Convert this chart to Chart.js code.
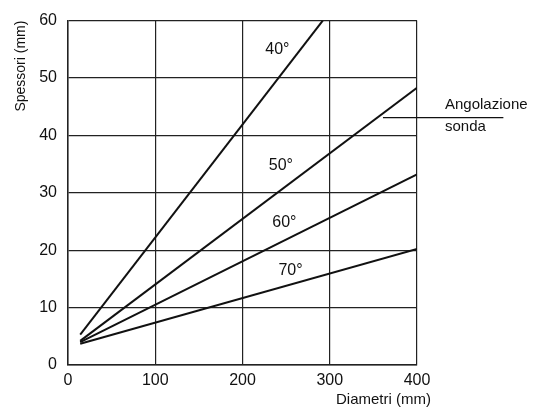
<!DOCTYPE html>
<html>
<head>
<meta charset="utf-8">
<script src="https://cdn.jsdelivr.net/npm/chart.js@4.4.1/dist/chart.umd.min.js"></script>
<style>
  html, body { margin: 0; padding: 0; background: #fff; }
  #wrap { width: 538px; height: 412px; position: relative; }
</style>
</head>
<body>
<div id="wrap"><canvas id="grafico"></canvas></div>
<script>
// valori: spessore in funzione del diametro per angolazione sonda
const angoli = ["40°", "50°", "60°", "70°"];
const diam40 = [14, 292];
const spess40 = [5.3, 60];
const diam50 = [14, 400];
const spess50 = [4.2, 48.3];
const diam60 = [14, 400];
const spess60 = [4.0, 33.2];
const diam70 = [14, 400];
const spess70 = [3.7, 20.2];

const xTicks = [0, 100, 200, 300, 400];
const yTicks = [0, 10, 20, 30, 40, 50, 60];

const FONT = "'Liberation Sans', Arial, sans-serif";
const INK = "#111";

function punti(xs, ys) {
  return xs.map((x, i) => ({ x, y: ys[i] }));
}

const serie = [
  punti(diam40, spess40),
  punti(diam50, spess50),
  punti(diam60, spess60),
  punti(diam70, spess70),
];

// etichette angoli, titolo asse x e nota "Angolazione sonda"
const notePlugin = {
  id: "note",
  afterDraw(chart) {
    const { ctx, scales } = chart;
    const sx = scales.x;
    const sy = scales.y;
    const pos = [[240, 55], [244, 34.7], [248, 24.8], [255, 16.4]];
    ctx.save();
    ctx.fillStyle = INK;
    ctx.font = `16px ${FONT}`;
    ctx.textAlign = "center";
    ctx.textBaseline = "middle";
    angoli.forEach((a, i) => {
      ctx.fillText(a, sx.getPixelForValue(pos[i][0]), sy.getPixelForValue(pos[i][1]));
    });

    ctx.font = `15px ${FONT}`;
    ctx.textAlign = "right";
    ctx.fillText("Diametri (mm)", sx.right + 14, 400);

    const yl = sy.getPixelForValue(43.1);
    ctx.strokeStyle = INK;
    ctx.lineWidth = 1.2;
    ctx.beginPath();
    ctx.moveTo(sx.getPixelForValue(361), yl);
    ctx.lineTo(sx.getPixelForValue(499), yl);
    ctx.stroke();

    ctx.textAlign = "left";
    ctx.textBaseline = "alphabetic";
    ctx.fillText("Angolazione", 445, yl - 9);
    ctx.fillText("sonda", 445, yl + 13);
    ctx.restore();
  },
};

new Chart(document.getElementById("grafico"), {
  type: "scatter",
  data: {
    datasets: serie.map((d, i) => ({
      label: angoli[i],
      data: d,
      showLine: true,
      borderColor: INK,
      backgroundColor: INK,
      borderWidth: 2,
      pointRadius: 0,
      tension: 0,
    })),
  },
  options: {
    responsive: true,
    maintainAspectRatio: false,
    animation: false,
    layout: { padding: { left: 0, top: 16, right: 121, bottom: 0 } },
    plugins: {
      legend: { display: false },
      tooltip: { enabled: false },
    },
    scales: {
      x: {
        type: "linear",
        min: 0,
        max: 400,
        afterBuildTicks(s) {
          s.ticks = xTicks.map((v) => ({ value: v }));
        },
        afterFit(s) {
          s.height = 47;
        },
        grid: { color: "#222", lineWidth: 1.2, drawTicks: false },
        border: { color: "#222", width: 1.5 },
        ticks: { color: INK, font: { family: FONT, size: 16 }, padding: 6 },
        title: { display: false },
      },
      y: {
        type: "linear",
        min: 0,
        max: 60,
        afterBuildTicks(s) {
          s.ticks = yTicks.map((v) => ({ value: v }));
        },
        afterFit(s) {
          s.width = 68;
        },
        grid: { color: "#222", lineWidth: 1.2, drawTicks: false },
        border: { color: "#222", width: 1.5 },
        ticks: { color: INK, font: { family: FONT, size: 16 }, padding: 11 },
        title: {
          display: true,
          text: "Spessori (mm)",
          align: "end",
          color: INK,
          font: { family: FONT, size: 14 },
          padding: { top: 13, bottom: 4 },
        },
      },
    },
  },
  plugins: [notePlugin],
});
</script>
</body>
</html>
